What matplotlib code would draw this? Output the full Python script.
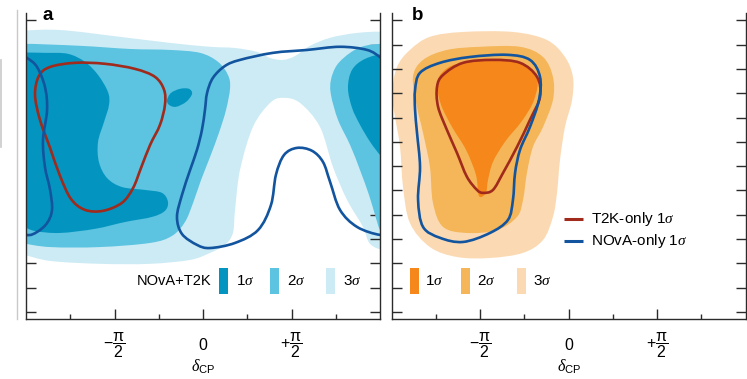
import numpy as np
import matplotlib
matplotlib.use("Agg")
import matplotlib.pyplot as plt
from matplotlib.path import Path
from matplotlib.patches import PathPatch, Rectangle
from matplotlib.lines import Line2D

plt.rcParams['font.family'] = ['Liberation Sans', 'DejaVu Sans']
plt.rcParams['mathtext.fontset'] = 'custom'
plt.rcParams['mathtext.rm'] = 'Liberation Sans'
plt.rcParams['mathtext.sf'] = 'Liberation Sans'
plt.rcParams['mathtext.it'] = 'Liberation Serif:italic'

# ---------------- data (x in units of pi for delta_CP, y in tick units) -------------
# Panel a: NOvA+T2K joint contours (regions wrap around the periodic delta_CP edges)
a3_x = [-1.034, -0.808, -0.469, -0.186, 0.040, 0.181, 0.305, 0.379, 0.452, 0.520, 0.605, 0.718, 0.870, 1.034,
        1.2, 1.2,
        1.034, 0.944, 0.904, 0.814, 0.734, 0.661, 0.548, 0.452, 0.379, 0.282, 0.209, 0.181, 0.169, 0.124,
        0.040, -0.073, -0.299, -0.582, -0.864, -1.034, -1.2, -1.2]
a3_y = [11.56, 11.60, 11.32, 11.07, 10.91, 10.86, 10.70, 10.45, 10.37, 10.53, 10.95, 11.28, 11.48, 11.52,
        11.3, 2.7,
        2.55, 2.80, 3.50, 4.61, 5.97, 7.61, 8.60, 8.81, 8.60, 7.61, 5.84, 4.20, 3.25, 2.76,
        2.43, 2.14, 1.98, 1.98, 2.10, 2.39, 2.6, 11.4]

a2L_x = [-1.034, -0.695, -0.412, -0.186, -0.017, 0.085, 0.141, 0.153, 0.130, 0.090, 0.040, -0.011, -0.056,
         -0.102, -0.175, -0.299, -0.582, -0.864, -1.034, -1.2, -1.2]
a2L_y = [11.03, 10.95, 10.82, 10.78, 10.66, 10.29, 9.75, 9.22, 8.31, 7.37, 6.38, 5.43, 4.49,
         3.70, 3.13, 2.84, 2.67, 2.67, 2.84, 3.0, 10.9]
a2R_x = [1.034, 0.915, 0.831, 0.757, 0.723, 0.723, 0.763, 0.831, 0.887, 0.938, 0.972, 1.000, 1.034, 1.2, 1.2]
a2R_y = [11.03, 10.95, 10.66, 10.16, 9.55, 8.93, 7.90, 6.87, 5.84, 4.81, 3.99, 3.37, 3.17, 3.3, 10.9]

a1L_x = [-1.034, -0.893, -0.763, -0.667, -0.593, -0.537, -0.531, -0.559, -0.593, -0.588, -0.542, -0.458,
         -0.328, -0.232, -0.198, -0.215, -0.288, -0.441, -0.610, -0.808, -0.949, -1.034, -1.2, -1.2]
a1L_y = [10.66, 10.66, 10.62, 10.29, 9.75, 9.05, 8.52, 7.82, 7.00, 6.17, 5.51, 5.14,
         5.02, 4.90, 4.53, 4.16, 3.91, 3.70, 3.42, 3.25, 3.33, 3.54, 3.7, 10.5]
a1I_x = [-0.203, -0.181, -0.130, -0.079, -0.062, -0.096, -0.153, -0.192]
a1I_y = [8.72, 9.01, 9.18, 9.18, 8.97, 8.64, 8.44, 8.52]
a1R_x = [1.034, 0.915, 0.842, 0.819, 0.842, 0.887, 0.944, 1.000, 1.034, 1.2, 1.2]
a1R_y = [10.62, 10.41, 9.96, 9.22, 8.40, 7.70, 7.00, 6.46, 6.26, 6.4, 10.5]

a_t2k_x = [-0.949, -0.927, -0.864, -0.723, -0.554, -0.384, -0.271, -0.220, -0.215, -0.243, -0.299, -0.350,
           -0.395, -0.458, -0.565, -0.667, -0.746, -0.808, -0.864, -0.921]
a_t2k_y = [8.93, 9.71, 10.08, 10.25, 10.21, 10.00, 9.67, 9.14, 8.52, 7.70, 6.87, 5.93,
           5.10, 4.49, 4.16, 4.20, 4.65, 5.60, 6.75, 7.90]

a_nova_x = [0.040, -0.034, -0.119, -0.147, -0.119, -0.073, -0.034, -0.006, 0.011, 0.023, 0.056, 0.124, 0.209,
            0.395, 0.588, 0.774, 0.927, 1.006, 1.062, 1.107, 1.119, 1.096, 1.107, 1.136, 1.147, 1.119, 1.062,
            1.000, 0.870, 0.774, 0.718, 0.678, 0.616, 0.531, 0.458, 0.412, 0.384, 0.311, 0.181]
a_nova_y = [2.63, 2.76, 3.21, 3.91, 4.81, 5.84, 6.67, 7.49, 8.31, 9.01, 9.63, 10.12, 10.37,
            10.66, 10.78, 10.91, 10.78, 10.45, 10.08, 9.26, 8.31, 7.08, 5.97, 5.02, 4.20, 3.66, 3.29,
            3.17, 3.50, 4.20, 5.35, 6.17, 6.63, 6.75, 6.46, 5.64, 4.40, 3.37, 2.84]

# Panel b: individual experiments
b3_x = [-0.998, -0.970, -0.897, -0.784, -0.597, -0.315, -0.123, -0.021, 0.024, 0.019, -0.021, -0.049,
        -0.066, -0.089, -0.145, -0.258, -0.445, -0.631, -0.784, -0.897, -0.936, -0.953, -0.981]
b3_y = [8.97, 10.08, 10.78, 11.32, 11.52, 11.52, 11.19, 10.49, 9.67, 8.72, 7.61, 6.26,
        4.90, 3.91, 2.96, 2.43, 2.22, 2.26, 2.67, 3.66, 5.14, 6.79, 8.02]
b2_x = [-0.880, -0.823, -0.688, -0.501, -0.275, -0.145, -0.089, -0.089, -0.145, -0.202, -0.236, -0.258,
        -0.292, -0.405, -0.575, -0.710, -0.767, -0.784, -0.823, -0.857]
b2_y = [9.67, 10.37, 10.78, 10.91, 10.91, 10.49, 9.67, 8.72, 7.61, 6.79, 5.72, 4.61,
        3.91, 3.37, 3.25, 3.50, 4.49, 5.97, 7.37, 8.44]
b1_x = [-0.744, -0.716, -0.631, -0.445, -0.264, -0.179, -0.196, -0.264, -0.360, -0.428, -0.456, -0.468,
        -0.507, -0.524, -0.580, -0.659, -0.721]
b1_y = [9.34, 9.84, 10.21, 10.37, 10.25, 9.63, 8.72, 7.86, 7.00, 6.17, 5.43, 4.90,
        4.77, 5.64, 6.67, 7.61, 8.52]
b_t2k_x = [-0.744, -0.710, -0.597, -0.428, -0.275, -0.179, -0.162, -0.219, -0.292, -0.371, -0.428, -0.484,
           -0.518, -0.575, -0.631, -0.688, -0.738]
b_t2k_y = [9.26, 9.75, 10.25, 10.37, 10.25, 9.67, 8.85, 7.90, 6.79, 5.72, 5.02, 4.90,
           5.02, 5.56, 6.54, 7.49, 8.44]
b_nova_x = [-0.868, -0.840, -0.727, -0.558, -0.349, -0.219, -0.162, -0.168, -0.219, -0.275, -0.303, -0.315,
            -0.343, -0.445, -0.597, -0.727, -0.823, -0.851, -0.840, -0.857, -0.868]
b_nova_y = [9.14, 9.84, 10.25, 10.49, 10.58, 10.37, 9.67, 8.72, 7.61, 6.67, 5.72, 4.61,
            3.79, 3.25, 2.88, 3.05, 3.50, 4.61, 5.97, 7.37, 8.31]

x_ticks = [-0.5, 0.0, 0.5]
x_minor = [-0.75, -0.25, 0.25, 0.75]
x_ticklabels = [r'$-\dfrac{\mathrm{\pi}}{2}$', '0', r'$+\dfrac{\mathrm{\pi}}{2}$']
y_ticks = list(range(13))
sigma_labels = [r'1$\sigma$', r'2$\sigma$', r'3$\sigma$']

# ---------------- styles ----------------
blues = ['#0395c0', '#5cc3e0', '#cdebf5']
oranges = ['#f6871b', '#f4b658', '#fbdab3']
red_line = '#a02a1c'
blue_line = '#12549e'
spine_col = '#2b2b2b'


def smooth_path(xs, ys, dx=0.0):
    P = np.column_stack([np.asarray(xs, float) + dx, np.asarray(ys, float)])
    n = len(P)
    verts = [P[0]]
    codes = [Path.MOVETO]
    for i in range(n):
        p0, p1, p2, p3 = P[i - 1], P[i], P[(i + 1) % n], P[(i + 2) % n]
        c1 = p1 + (p2 - p0) / 6.0
        c2 = p2 - (p3 - p1) / 6.0
        verts += [c1, c2, p2]
        codes += [Path.CURVE4] * 3
    verts.append(P[0])
    codes.append(Path.CLOSEPOLY)
    return Path(np.array(verts), codes)


def fill(ax, xs, ys, color, z):
    ax.add_patch(PathPatch(smooth_path(xs, ys), facecolor=color, edgecolor='none', zorder=z))


def outline(ax, xs, ys, color, z, dx=0.0):
    ax.add_patch(PathPatch(smooth_path(xs, ys, dx), facecolor='none', edgecolor=color,
                           lw=1.9, zorder=z, joinstyle='round'))


fig = plt.figure(figsize=(7.47, 3.79), dpi=100)
axA = fig.add_axes([26 / 747, 60 / 379, 354 / 747, 306 / 379])
axB = fig.add_axes([391.7 / 747, 60 / 379, 354 / 747, 306 / 379])

for ax in (axA, axB):
    ax.set_xlim(-1, 1)
    ax.set_ylim(-0.29, 12.3)
    ax.spines['top'].set_visible(False)
    for s in ('left', 'right', 'bottom'):
        ax.spines[s].set_color(spine_col)
        ax.spines[s].set_linewidth(1.0)
        ax.spines[s].set_zorder(10)
    ax.set_xticks(x_ticks)
    ax.set_xticks(x_minor, minor=True)
    ax.set_xticklabels(x_ticklabels, fontsize=11.5)
    ax.set_yticks(y_ticks)
    ax.set_yticklabels([])
    ax.tick_params(axis='x', which='major', direction='in', length=7.2, width=1.0,
                   color=spine_col, pad=19, top=False)
    ax.tick_params(axis='x', which='minor', direction='in', length=3.6, width=1.0,
                   color=spine_col, top=False)
    ax.tick_params(axis='y', which='major', direction='in', length=7.2, width=1.0,
                   color=spine_col, left=True, right=True)
    for lab in ax.get_xticklabels():
        lab.set_va('center')
    ax.text(0.5, -0.157, r'$\delta_{\mathrm{CP}}$', transform=ax.transAxes,
            ha='center', va='center', fontsize=11.5)

# ---- panel a ----
fill(axA, a3_x, a3_y, blues[2], 1)
fill(axA, a2L_x, a2L_y, blues[1], 2)
fill(axA, a2R_x, a2R_y, blues[1], 2)
fill(axA, a1L_x, a1L_y, blues[0], 3)
fill(axA, a1I_x, a1I_y, blues[0], 3)
fill(axA, a1R_x, a1R_y, blues[0], 3)
outline(axA, a_t2k_x, a_t2k_y, red_line, 5)
outline(axA, a_nova_x, a_nova_y, blue_line, 6)
outline(axA, a_nova_x, a_nova_y, blue_line, 6, dx=-2.0)

# ---- panel b ----
fill(axB, b3_x, b3_y, oranges[2], 1)
fill(axB, b2_x, b2_y, oranges[1], 2)
fill(axB, b1_x, b1_y, oranges[0], 3)
outline(axB, b_t2k_x, b_t2k_y, red_line, 5)
outline(axB, b_nova_x, b_nova_y, blue_line, 6)

# panel letters
axA.text(0.048, 0.978, 'a', transform=axA.transAxes, fontsize=13.5, fontweight='bold',
         ha='left', va='baseline')
axB.text(0.057, 0.978, 'b', transform=axB.transAxes, fontsize=13.5, fontweight='bold',
         ha='left', va='baseline')

# legends of sigma levels
ly = 0.124
axA.text(0.5226, ly, 'NOvA+T2K', transform=axA.transAxes, ha='right', va='center', fontsize=10.5)
for i, (x0, tx) in enumerate([(0.545, 0.593), (0.689, 0.737), (0.847, 0.895)]):
    axA.add_patch(Rectangle((x0, 0.082), 0.026, 0.085, transform=axA.transAxes,
                            facecolor=blues[i], edgecolor='none', zorder=7))
    axA.text(tx, ly, sigma_labels[i], transform=axA.transAxes, ha='left', va='center', fontsize=11)
for i, (x0, tx) in enumerate([(0.0517, 0.094), (0.196, 0.241), (0.354, 0.399)]):
    axB.add_patch(Rectangle((x0, 0.082), 0.026, 0.085, transform=axB.transAxes,
                            facecolor=oranges[i], edgecolor='none', zorder=7))
    axB.text(tx, ly, sigma_labels[i], transform=axB.transAxes, ha='left', va='center', fontsize=11)

# line legend in panel b
for yy, col, txt in [(0.327, red_line, r'T2K-only 1$\sigma$'), (0.255, blue_line, r'NOvA-only 1$\sigma$')]:
    axB.add_line(Line2D([0.487, 0.541], [yy, yy], transform=axB.transAxes, color=col, lw=2.2,
                        solid_capstyle='butt', zorder=7))
    axB.text(0.563, yy, txt, transform=axB.transAxes, ha='left', va='center', fontsize=11)

# faint border of neighbouring panel on the far left
fig.add_artist(Line2D([16.5 / 747, 16.5 / 747], [60 / 379, 369 / 379], color='#c9c9c9', lw=1.0))
fig.add_artist(Line2D([0.6 / 747, 0.6 / 747], [232 / 379, 319 / 379], color='#c9c9c9', lw=1.2))

fig.savefig('out.png', dpi=100)
